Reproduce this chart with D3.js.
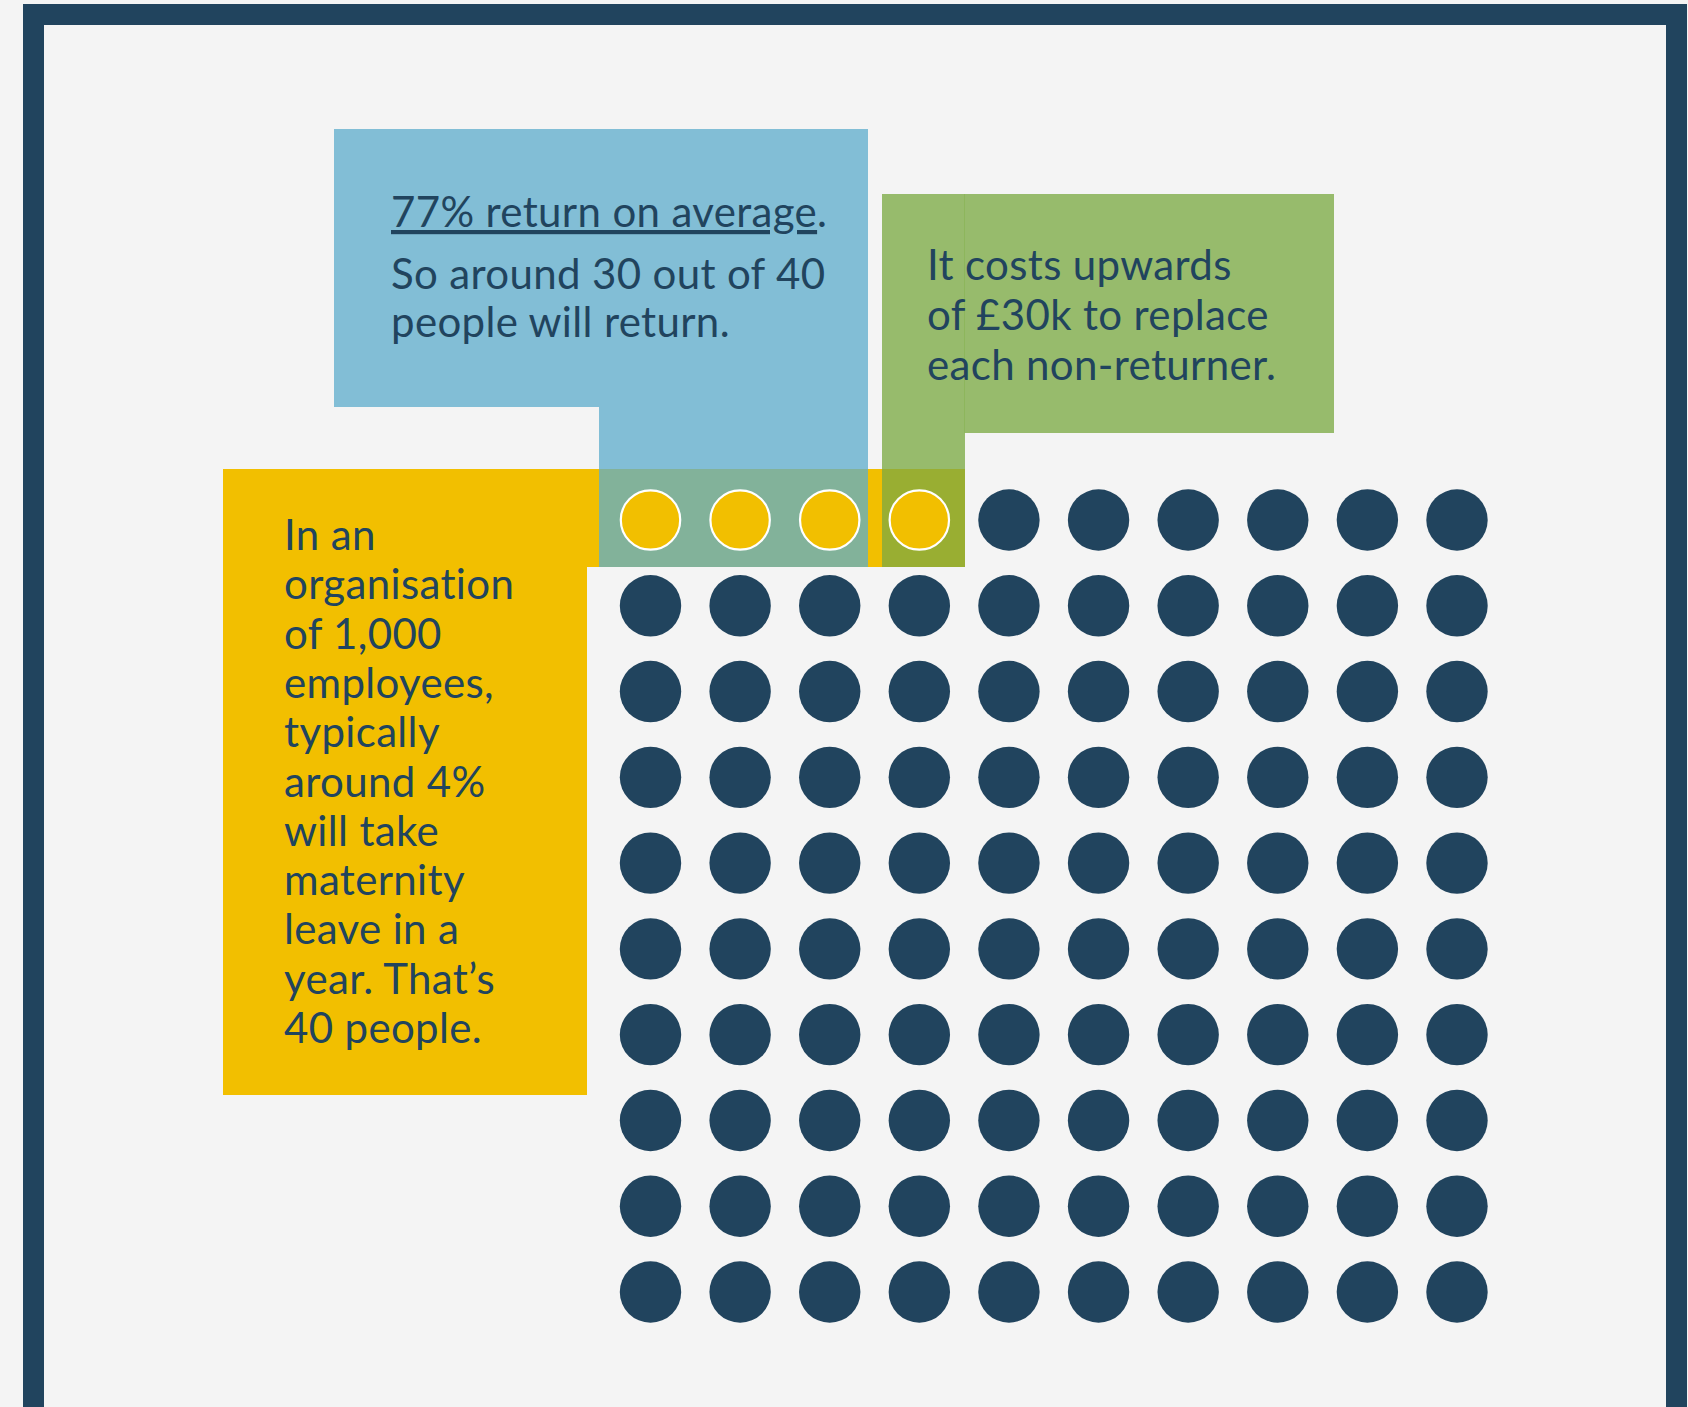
<!DOCTYPE html>
<html>
<head>
    <title>Maternity returners</title>
    <script src="https://cdn.jsdelivr.net/npm/d3@7"></script>
    <style>
        body { margin: 0; background: #f4f4f4; }
        text { font-family: Lato, "Open Sans", sans-serif; fill: #21445e; letter-spacing: 0.35px; font-variant-ligatures: none; }
    </style>
</head>
<body>
<script>
    // data
    var totalPeople = 100;      // dots shown in the grid
    var onLeave = 4;            // dots highlighted (4% of the workforce)
    var gridCols = 10;
    var blueLines = ["So around 30 out of 40", "people will return."];
    var blueHeadline = "77% return on average";
    var greenLines = ["It costs upwards", "of \u00a330k to replace", "each non-returner."];
    var yellowLines = ["In an", "organisation", "of 1,000", "employees,", "typically",
        "around 4%", "will take", "maternity", "leave in a", "year. That\u2019s", "40 people."];

    var width = 1688;
    var height = 1407;
    var dark = "#21445e";

    var svg = d3.select( "body" )
        .append( "svg" )
        .attr( "width", width )
        .attr( "height", height );

    svg.append( "rect" )
        .attr( "width", width ).attr( "height", height )
        .attr( "fill", "#f4f4f4" );

    // frame
    svg.append( "rect" )
        .attr( "x", 33.5 ).attr( "y", 14.5 )
        .attr( "width", 1643 ).attr( "height", 1600 )
        .attr( "fill", "none" )
        .attr( "stroke", dark )
        .attr( "stroke-width", 21 );

    // boxes
    var boxes = svg.append( "g" );
    // blue
    boxes.append( "rect" ).attr( "x", 334 ).attr( "y", 129 ).attr( "width", 534 ).attr( "height", 278 ).attr( "fill", "#82bed6" );
    boxes.append( "rect" ).attr( "x", 599 ).attr( "y", 406 ).attr( "width", 269 ).attr( "height", 63 ).attr( "fill", "#82bed6" );
    // green
    boxes.append( "rect" ).attr( "x", 882 ).attr( "y", 194 ).attr( "width", 452 ).attr( "height", 239 ).attr( "fill", "#97bb6c" );
    boxes.append( "rect" ).attr( "x", 882 ).attr( "y", 432 ).attr( "width", 83 ).attr( "height", 37 ).attr( "fill", "#97bb6c" );
    boxes.append( "line" ).attr( "x1", 964.5 ).attr( "x2", 964.5 ).attr( "y1", 194 ).attr( "y2", 433 )
        .attr( "stroke", "#8db65c" ).attr( "stroke-width", 1 );
    // yellow
    boxes.append( "rect" ).attr( "x", 223 ).attr( "y", 469 ).attr( "width", 364 ).attr( "height", 626 ).attr( "fill", "#f2bf00" );
    boxes.append( "rect" ).attr( "x", 586 ).attr( "y", 469 ).attr( "width", 379 ).attr( "height", 98 ).attr( "fill", "#f2bf00" );
    // overlaps
    boxes.append( "rect" ).attr( "x", 599 ).attr( "y", 469 ).attr( "width", 269 ).attr( "height", 98 ).attr( "fill", "#82b29a" );
    boxes.append( "rect" ).attr( "x", 882 ).attr( "y", 469 ).attr( "width", 83 ).attr( "height", 98 ).attr( "fill", "#99ae32" );

    // dot grid
    var people = d3.range( totalPeople );
    var x = d3.scaleLinear().domain( [0, gridCols - 1] ).range( [650.5, 1457] );
    var y = d3.scaleLinear().domain( [0, totalPeople / gridCols - 1] ).range( [520, 1292] );

    svg.append( "g" ).selectAll( "circle" )
        .data( people )
        .enter()
        .append( "circle" )
        .attr( "cx", function( d ) { return x( d % gridCols ); } )
        .attr( "cy", function( d ) { return y( Math.floor( d / gridCols ) ); } )
        .attr( "r", function( d ) { return d < onLeave ? 29.7 : 30.7; } )
        .attr( "fill", function( d ) { return d < onLeave ? "#f2bf00" : dark; } )
        .attr( "stroke", function( d ) { return d < onLeave ? "#fff" : "none"; } )
        .attr( "stroke-width", 2.2 );

    // texts
    var fs = 42;
    var t1 = svg.append( "text" ).attr( "x", 391 ).attr( "y", 227 ).attr( "font-size", fs );
    t1.append( "tspan" ).style( "text-decoration", "underline" ).text( blueHeadline );
    t1.append( "tspan" ).text( "." );

    svg.append( "g" ).selectAll( "text" )
        .data( blueLines ).enter().append( "text" )
        .attr( "x", 391 )
        .attr( "y", function( d, i ) { return 289 + i * 48; } )
        .attr( "font-size", fs )
        .text( function( d ) { return d; } );

    svg.append( "g" ).selectAll( "text" )
        .data( greenLines ).enter().append( "text" )
        .attr( "x", 927 )
        .attr( "y", function( d, i ) { return 280 + i * 50; } )
        .attr( "font-size", fs )
        .text( function( d ) { return d; } );

    svg.append( "g" ).selectAll( "text" )
        .data( yellowLines ).enter().append( "text" )
        .attr( "x", 284 )
        .attr( "y", function( d, i ) { return 550 + i * 49.3; } )
        .attr( "font-size", fs )
        .text( function( d ) { return d; } );
</script>
</body>
</html>
